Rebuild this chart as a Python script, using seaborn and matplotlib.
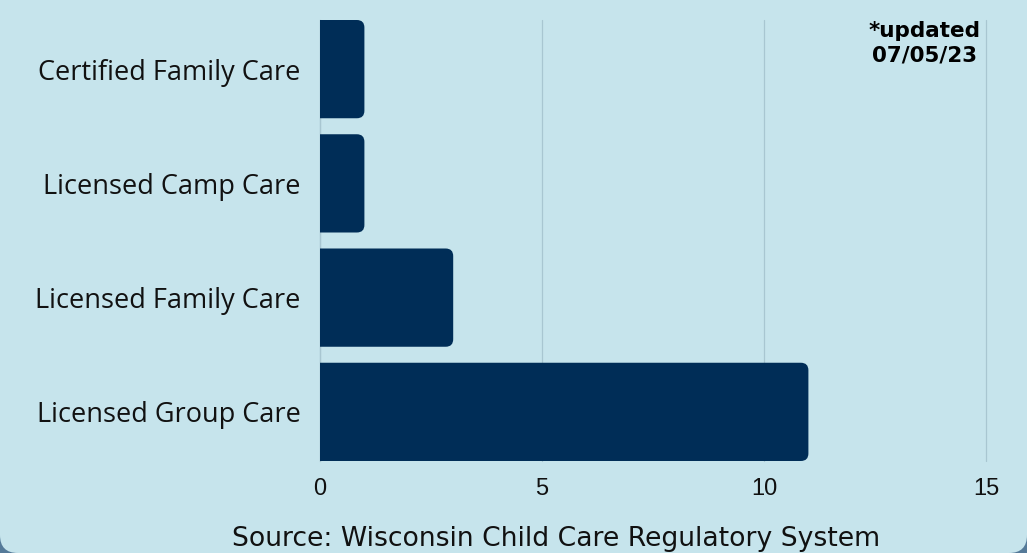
import matplotlib
matplotlib.use("Agg")
import matplotlib.pyplot as plt
from matplotlib.patches import FancyBboxPatch
import seaborn as sns
import pandas as pd

# data
care_types = ["Certified Family Care", "Licensed Camp Care",
              "Licensed Family Care", "Licensed Group Care"]
counts = [1, 1, 3, 11]
x_ticks = [0, 5, 10, 15]

BG = "#c6e4ec"
BAR = "#002d57"
GRID = "#a8c6d1"

sns.set_theme(style="white")
plt.rcParams["font.family"] = ["Open Sans", "DejaVu Sans"]

df = pd.DataFrame({"type": care_types, "count": counts})

fig = plt.figure(figsize=(10.27, 5.53), dpi=100)
fig.patch.set_facecolor("#557a99")
# light panel with rounded bottom corners
panel = FancyBboxPatch((0, 0), 10.27, 6.5, boxstyle="round,pad=0,rounding_size=0.18",
                       transform=fig.dpi_scale_trans, facecolor=BG, edgecolor="none",
                       zorder=-10)
fig.patches.append(panel)

ax = fig.add_axes([320 / 1027, 1 - 461 / 553, 666 / 1027, 441 / 553])
ax.set_facecolor(BG)

sns.barplot(data=df, x="count", y="type", orient="h", color=BAR,
            width=0.86, saturation=1, ax=ax)

ax.set_xlim(0, 15)
ax.set_ylim(3.43, -0.43)

# swap plain bars for ones with rounded right ends
px_x = 666 / 15
px_y = 441 / 3.86
r = 0.17
for p in list(ax.patches):
    x, y, w, h = p.get_x(), p.get_y(), p.get_width(), p.get_height()
    p.remove()
    fb = FancyBboxPatch((x - 1, y), w + 1, h,
                        boxstyle=f"round,pad=0,rounding_size={r}",
                        mutation_aspect=px_x / px_y,
                        facecolor=BAR, edgecolor="none", zorder=3)
    ax.add_patch(fb)

ax.set_xticks(x_ticks)
ax.xaxis.grid(True, color=GRID, linewidth=0.9, zorder=0)
for gl in ax.get_xgridlines():
    gl.set_clip_on(False)
ax.set_axisbelow(True)
for s in ["top", "right", "bottom"]:
    ax.spines[s].set_visible(False)
ax.spines["left"].set_color(GRID)
ax.spines["left"].set_linewidth(0.9)
ax.tick_params(axis="both", length=0)
ax.tick_params(axis="y", pad=14, labelsize=19.5, labelcolor="#111111")
ax.tick_params(axis="x", pad=12, labelsize=17, labelcolor="#111111")
for lab in ax.get_xticklabels():
    lab.set_family(["Liberation Sans", "DejaVu Sans"])
ax.set_xlabel("")
ax.set_ylabel("")

fig.text(925 / 1027, 1 - 21 / 553, "*updated\n07/05/23", ha="center", va="top",
         multialignment="center", fontsize=15.5, fontweight="bold",
         color="#000000", linespacing=1.3, family=["DejaVu Sans"])

fig.text(556 / 1027, 1 - 546 / 553, "Source: Wisconsin Child Care Regulatory System",
         ha="center", va="baseline", fontsize=19.2, color="#111111",
         family=["DejaVu Sans"])

fig.savefig("out.png", dpi=100, facecolor=fig.get_facecolor())
